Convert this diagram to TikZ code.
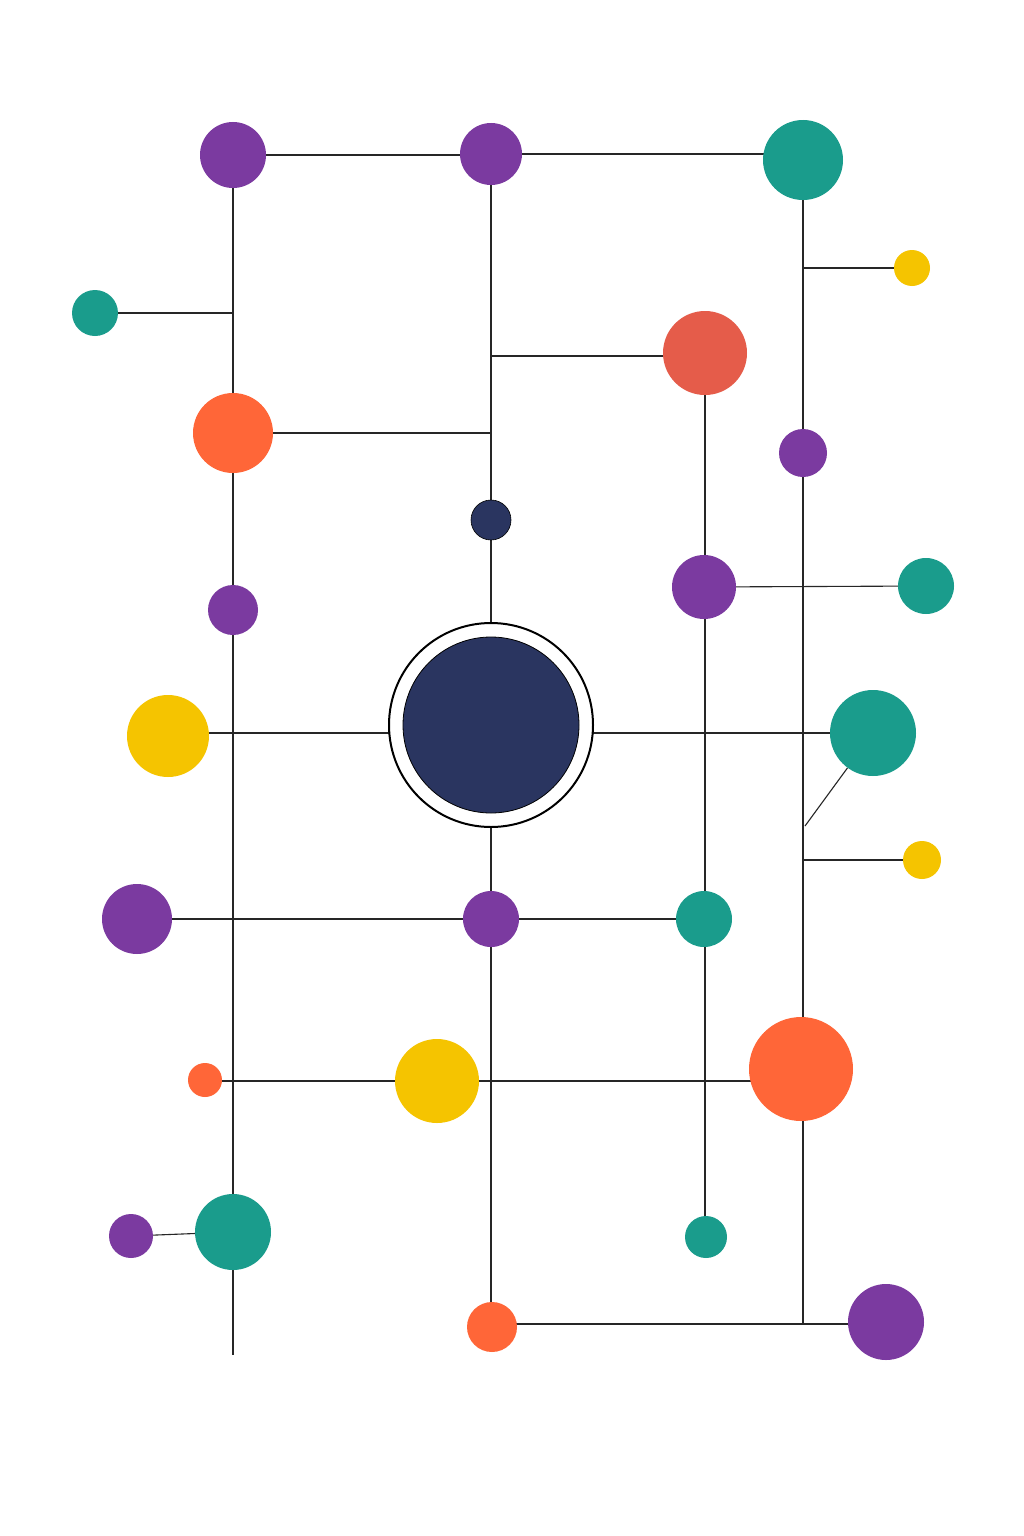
\documentclass[tikz,border=0pt]{standalone}
\usetikzlibrary{backgrounds}
\definecolor{cpur}{HTML}{7B3AA0}
\definecolor{ctea}{HTML}{1A9C8C}
\definecolor{cyel}{HTML}{F5C400}
\definecolor{cora}{HTML}{FF6638}
\definecolor{cred}{HTML}{E55C4A}
\definecolor{cnav}{HTML}{2A3560}
\begin{document}
\begin{tikzpicture}[x=1pt,y=-1pt,
  dot/.style={circle,inner sep=0pt,minimum size=#1*2pt},
  pur/.style={dot=#1,fill=cpur},
  tea/.style={dot=#1,fill=ctea},
  yel/.style={dot=#1,fill=cyel},
  ora/.style={dot=#1,fill=cora},
  red/.style={dot=#1,fill=cred},
  nav/.style={dot=#1,fill=cnav},
  link/.style={line width=1.1pt,black!85}]
\useasboundingbox (0,0) rectangle (1024,1536);
\node[pur=33] (P1) at (233,155) {};
\node[pur=31] (P2) at (491,154) {};
\node[tea=40] (T1) at (803,160) {};
\node[yel=18] (Y1) at (912,268) {};
\node[tea=23] (T2) at (95,313) {};
\node[red=42] (R1) at (705,353) {};
\node[ora=40] (O1) at (233,433) {};
\node[pur=24] (P3) at (803,453) {};
\node[nav=20,draw=black,line width=0.6pt] (N1) at (491,520) {};
\node[pur=25] (P4) at (233,610) {};
\node[pur=32] (P5) at (704,587) {};
\node[tea=28] (T3) at (926,586) {};
\node[circle,draw=black,line width=2pt,fill=white,minimum size=204pt,inner sep=0pt] (C) at (491,725) {};
\node[nav=88,draw=black,line width=0.8pt] at (491,725) {};
\node[yel=41] (Y2) at (168,736) {};
\node[tea=43] (T4) at (873,733) {};
\node[yel=19] (Y3) at (922,860) {};
\node[pur=35] (P6) at (137,919) {};
\node[pur=28] (P7) at (491,919) {};
\node[tea=28] (T5) at (704,919) {};
\node[ora=17] (O2) at (205,1080) {};
\node[yel=42] (Y4) at (437,1081) {};
\node[ora=52] (O3) at (801,1069) {};
\node[pur=22] (P8) at (131,1236) {};
\node[tea=38] (T6) at (233,1232) {};
\node[tea=21] (T7) at (706,1237) {};
\node[ora=25] (O4) at (492,1327) {};
\node[pur=38] (P9) at (886,1322) {};
\coordinate (Lend) at (233,1355);
\coordinate (Ja) at (233,313);
\coordinate (Jb) at (491,433);
\coordinate (Jc) at (491,356);
\coordinate (Jd) at (803,268);
\coordinate (Je) at (805,826);
\coordinate (Jf) at (803,860);
\coordinate (Jg) at (803,1323);
\coordinate (Jh) at (0,733);
\coordinate (Jk) at (0,1081);
\coordinate (Jm) at (0,1324);
\begin{scope}[on background layer]
\fill[white] (0,0) rectangle (1024,1536);
\draw[link] (P1) -- (P1 -| P2);
\draw[link] (P2) -- (P2 -| T1);
\draw[link] (P1) -- (Lend);
\draw[link] (T2) -- (Ja);
\draw[link] (O1) -- (Jb);
\draw[link] (P2) -- (N1);
\draw[link] (Jc) -- (Jc -| R1);
\draw[link] (N1) -- (C);
\draw[link] (R1.center) -- (R1.center |- T7);
\draw[link] (P5) -- (T3);
\draw[link] (T1) -- (T1 |- Jg);
\draw[link] (Jd) -- (Y1);
\draw[link] (Jh -| Y2) -- (Jh -| T4);
\draw[link] (T4) -- (Je);
\draw[link] (Jf) -- (Y3);
\draw[link] (C) -- (P7);
\draw[link] (P7) -- (P7 |- O4);
\draw[link] (P6) -- (T5);
\draw[link] (Jk -| O2) -- (Jk -| O3);
\draw[link] (P8) -- (T6);
\draw[link] (Jm -| O4) -- (Jm -| P9);
\end{scope}
\end{tikzpicture}
\end{document}
